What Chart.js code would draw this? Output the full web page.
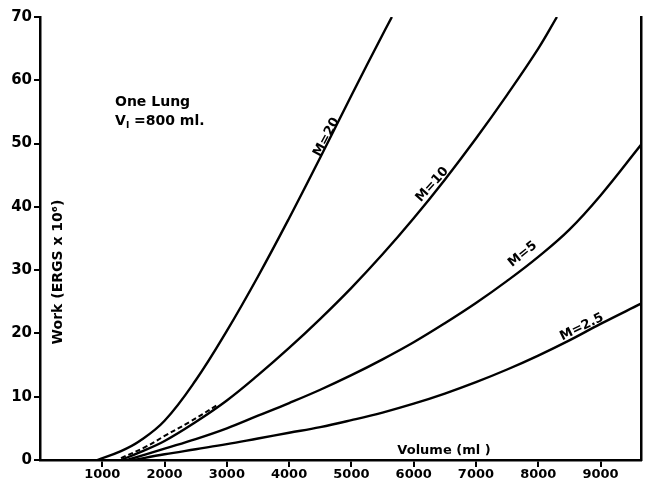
<!DOCTYPE html>
<html>
<head>
<meta charset="utf-8">
<script src="https://cdn.jsdelivr.net/npm/chart.js@4.4.1/dist/chart.umd.min.js"></script>
<style>
  html, body { margin: 0; padding: 0; background: #fff; }
  #wrap { width: 645px; height: 483px; }
</style>
</head>
<body>
<div id="wrap"><canvas id="workChart"></canvas></div>
<script>
// values (volume in ml, work in ergs x 10^6)
const m20Vol  = [920, 1300, 1600, 2000, 2500, 3000, 3500, 4000, 4500, 5000, 5500, 5650];
const m20Work = [0, 1.4, 3.0, 6.2, 12.6, 20.4, 29.0, 38.2, 47.8, 57.6, 67.2, 70];

const m10Vol  = [1300, 1600, 2000, 2500, 3000, 3500, 4000, 4500, 5000, 5500, 6000, 6500, 7000, 7500, 8000, 8300];
const m10Work = [0, 1.2, 3.0, 6.0, 9.4, 13.4, 17.7, 22.3, 27.2, 32.5, 38.2, 44.3, 50.8, 57.7, 65, 70];

const m5Vol  = [1400, 2000, 2500, 3000, 3500, 4000, 4500, 5000, 5500, 6000, 6500, 7000, 7500, 8000, 8500, 9000, 9650];
const m5Work = [0, 1.8, 3.3, 5.0, 7.0, 9.0, 11.1, 13.4, 15.9, 18.6, 21.6, 24.8, 28.3, 32.1, 36.4, 41.8, 49.8];

const m25Vol  = [1500, 2000, 2500, 3000, 3500, 4000, 4500, 5000, 5500, 6000, 6500, 7000, 7500, 8000, 8500, 9000, 9650];
const m25Work = [0, 0.9, 1.7, 2.5, 3.4, 4.3, 5.2, 6.3, 7.5, 8.9, 10.5, 12.3, 14.3, 16.5, 18.9, 21.5, 24.7];

const dashVol  = [1300, 1700, 2000, 2400, 2850];
const dashWork = [0.3, 2.1, 3.8, 6.0, 8.7];

const xTicks = [1000, 2000, 3000, 4000, 5000, 6000, 7000, 8000, 9000];
const yTicks = [0, 10, 20, 30, 40, 50, 60, 70];

const toPoints = (xs, ys) => xs.map((x, i) => ({ x: x, y: ys[i] }));

function curve(xs, ys) {
    return {
        data: toPoints(xs, ys),
        borderColor: '#000',
        borderWidth: 2.4,
        pointRadius: 0,
        tension: 0.4,
        fill: false
    };
}

const dashed = curve(dashVol, dashWork);
dashed.borderWidth = 2;
dashed.borderDash = [5, 3];

/* ===== TEXT INSIDE THE PLOT ===== */
const notes = {
    id: 'notes',
    afterDraw(chart) {
        const ctx = chart.ctx;
        const x = chart.scales.x;
        const y = chart.scales.y;
        ctx.save();
        ctx.fillStyle = '#000';

        ctx.font = 'bold 14px "DejaVu Sans"';
        ctx.textAlign = 'left';
        ctx.textBaseline = 'alphabetic';
        ctx.fillText('One Lung', 115, 106);
        ctx.fillText('V', 115, 125);
        ctx.font = 'bold 9px "DejaVu Sans"';
        ctx.fillText('I', 126, 128);
        ctx.font = 'bold 14px "DejaVu Sans"';
        ctx.fillText('=800 ml.', 134, 125);

        // curve labels, rotated along their lines
        const labels = [
            ['M=20', 4600, 51, -62],
            ['M=10', 6300, 43.5, -48],
            ['M=5', 7750, 32.5, -39],
            ['M=2.5', 8700, 21, -26]
        ];
        ctx.font = 'bold 13px "DejaVu Sans"';
        ctx.textAlign = 'center';
        ctx.textBaseline = 'middle';
        labels.forEach(([txt, vx, vy, ang]) => {
            ctx.save();
            ctx.translate(x.getPixelForValue(vx), y.getPixelForValue(vy));
            ctx.rotate(ang * Math.PI / 180);
            ctx.fillText(txt, 0, 0);
            ctx.restore();
        });

        // axis titles sit inside the frame
        ctx.font = 'bold 13px "DejaVu Sans"';
        ctx.fillText('Volume (ml )', 444, 451);

        ctx.save();
        ctx.translate(58, 272);
        ctx.rotate(-Math.PI / 2);
        ctx.font = 'bold 14px "DejaVu Sans"';
        ctx.fillText('Work (ERGS x 10\u2076)', 0, 0);
        ctx.restore();

        ctx.restore();
    }
};

const axisFont = { family: 'DejaVu Sans', weight: 'bold' };

new Chart(document.getElementById('workChart'), {
    type: 'line',
    data: {
        datasets: [
            curve(m20Vol, m20Work),
            curve(m10Vol, m10Work),
            curve(m5Vol, m5Work),
            curve(m25Vol, m25Work),
            dashed
        ]
    },
    options: {
        responsive: true,
        maintainAspectRatio: false,
        animation: false,
        layout: { padding: { top: 17, right: 2, left: 0, bottom: 0 } },
        plugins: {
            legend: { display: false },
            tooltip: { enabled: false }
        },
        scales: {
            x: {
                type: 'linear',
                min: 0,
                max: 9650,
                afterBuildTicks: axis => {
                    axis.ticks = xTicks.map(v => ({ value: v }));
                },
                ticks: {
                    color: '#000',
                    font: { ...axisFont, size: 13 },
                    maxRotation: 0,
                    padding: 0,
                    callback: v => String(v)
                },
                grid: {
                    display: true,
                    drawOnChartArea: false,
                    drawTicks: true,
                    tickLength: 7,
                    color: '#000',
                    lineWidth: 2
                },
                border: { display: true, color: '#000', width: 2.5 },
                afterFit: axis => { axis.height = 23; }
            },
            y: {
                min: 0,
                max: 70,
                afterBuildTicks: axis => {
                    axis.ticks = yTicks.map(v => ({ value: v }));
                },
                ticks: {
                    color: '#000',
                    font: { ...axisFont, size: 15 },
                    padding: 2
                },
                grid: {
                    display: true,
                    drawOnChartArea: false,
                    drawTicks: true,
                    tickLength: 6,
                    color: '#000',
                    lineWidth: 2
                },
                border: { display: true, color: '#000', width: 2.5 },
                afterFit: axis => { axis.width = 40; }
            },
            yRight: {
                position: 'right',
                min: 0,
                max: 70,
                ticks: { display: false },
                grid: { display: false },
                border: { display: true, color: '#000', width: 2.5 },
                afterFit: axis => { axis.width = 2; }
            }
        }
    },
    plugins: [notes]
});
</script>
</body>
</html>
